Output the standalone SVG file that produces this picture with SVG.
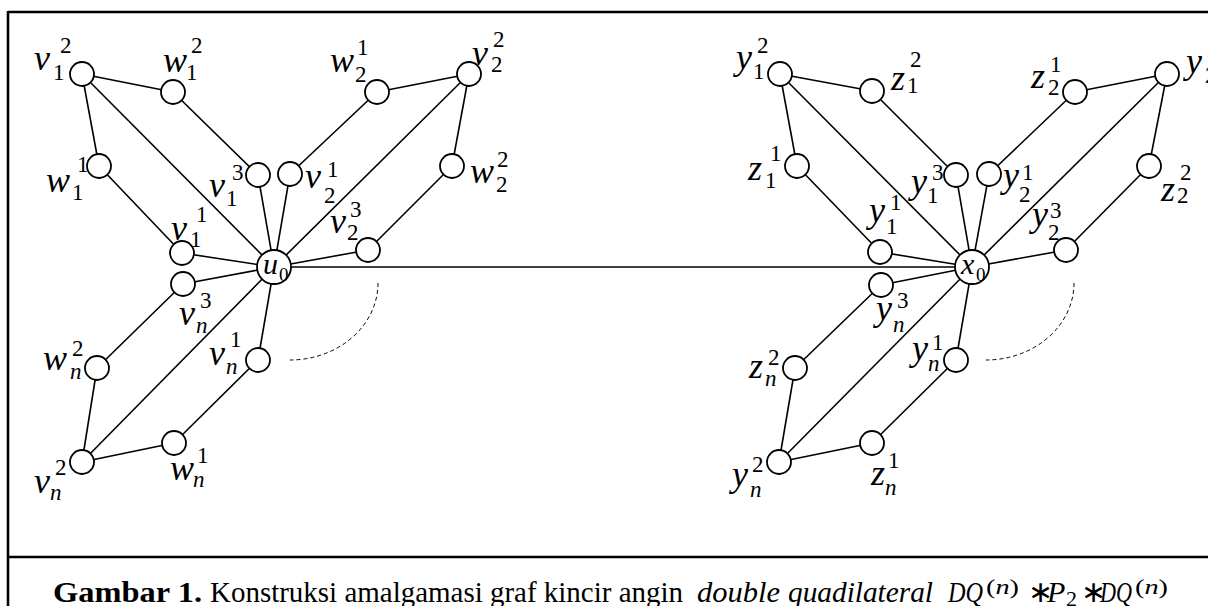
<svg xmlns="http://www.w3.org/2000/svg" width="1208" height="606" viewBox="0 0 1208 606">
  <style>
    .edge { stroke: #000; stroke-width: 1.6; fill: none; }
    .dash { stroke: #000; stroke-width: 1; fill: none; stroke-dasharray: 4 3; }
    .nd { fill: #fff; stroke: #000; stroke-width: 1.8; }
    .frame { stroke: #000; stroke-width: 2.6; fill: none; }
    text { font-family: "Liberation Serif", "Times New Roman", serif; fill: #000; }
    .m { font-size: 36px; font-style: italic; }
    .d { font-size: 23px; }
    .i { font-size: 23px; font-style: italic; }
    .c { font-size: 30px; font-style: italic; }
    .c0 { font-size: 19px; }
    .cap { font-size: 30px; }
    .capb { font-size: 30px; font-weight: bold; }
    .capi { font-size: 30px; font-style: italic; }
    .caps { font-size: 22px; }
  </style>

  <!-- frame -->
  <g id="frame">
    <line class="frame" x1="8" y1="12" x2="1208" y2="12"/>
    <line class="frame" x1="8" y1="11" x2="8" y2="606"/>
    <line class="frame" x1="8" y1="557" x2="1208" y2="557"/>
  </g>

  <!-- connectors -->
  <g id="edges">
    <!-- left windmill, blade 1 -->
    <line class="edge" x1="82" y1="74" x2="173" y2="92"/>
    <line class="edge" x1="82" y1="74" x2="99" y2="166"/>
    <line class="edge" x1="82" y1="74" x2="274" y2="267"/>
    <line class="edge" x1="173" y1="92" x2="258" y2="175"/>
    <line class="edge" x1="99" y1="166" x2="182" y2="253"/>
    <line class="edge" x1="258" y1="175" x2="274" y2="267"/>
    <line class="edge" x1="182" y1="253" x2="274" y2="267"/>
    <!-- left windmill, blade 2 -->
    <line class="edge" x1="469" y1="74" x2="377" y2="92"/>
    <line class="edge" x1="469" y1="74" x2="452" y2="166"/>
    <line class="edge" x1="469" y1="74" x2="274" y2="267"/>
    <line class="edge" x1="377" y1="92" x2="290" y2="174"/>
    <line class="edge" x1="452" y1="166" x2="368" y2="250"/>
    <line class="edge" x1="290" y1="174" x2="274" y2="267"/>
    <line class="edge" x1="368" y1="250" x2="274" y2="267"/>
    <!-- left windmill, blade n -->
    <line class="edge" x1="82" y1="462" x2="97" y2="368"/>
    <line class="edge" x1="82" y1="462" x2="174" y2="443"/>
    <line class="edge" x1="82" y1="462" x2="274" y2="267"/>
    <line class="edge" x1="97" y1="368" x2="183" y2="284"/>
    <line class="edge" x1="174" y1="443" x2="258" y2="360"/>
    <line class="edge" x1="183" y1="284" x2="274" y2="267"/>
    <line class="edge" x1="258" y1="360" x2="274" y2="267"/>
    <!-- path P2 joining the two centres -->
    <line class="edge" x1="274" y1="267" x2="972" y2="267"/>
    <!-- right windmill, blade 1 -->
    <line class="edge" x1="780" y1="74" x2="872" y2="91"/>
    <line class="edge" x1="780" y1="74" x2="797" y2="166"/>
    <line class="edge" x1="780" y1="74" x2="972" y2="267"/>
    <line class="edge" x1="872" y1="91" x2="956" y2="175"/>
    <line class="edge" x1="797" y1="166" x2="880" y2="252"/>
    <line class="edge" x1="956" y1="175" x2="972" y2="267"/>
    <line class="edge" x1="880" y1="252" x2="972" y2="267"/>
    <!-- right windmill, blade 2 -->
    <line class="edge" x1="1167" y1="74" x2="1075" y2="92"/>
    <line class="edge" x1="1167" y1="74" x2="1149" y2="166"/>
    <line class="edge" x1="1167" y1="74" x2="972" y2="267"/>
    <line class="edge" x1="1075" y1="92" x2="989" y2="174"/>
    <line class="edge" x1="1149" y1="166" x2="1066" y2="250"/>
    <line class="edge" x1="989" y1="174" x2="972" y2="267"/>
    <line class="edge" x1="1066" y1="250" x2="972" y2="267"/>
    <!-- right windmill, blade n -->
    <line class="edge" x1="779" y1="462" x2="795" y2="368"/>
    <line class="edge" x1="779" y1="462" x2="872" y2="443"/>
    <line class="edge" x1="779" y1="462" x2="972" y2="267"/>
    <line class="edge" x1="795" y1="368" x2="881" y2="285"/>
    <line class="edge" x1="872" y1="443" x2="956" y2="360"/>
    <line class="edge" x1="881" y1="285" x2="972" y2="267"/>
    <line class="edge" x1="956" y1="360" x2="972" y2="267"/>
    <!-- dashed arcs: the blades continue -->
    <path class="dash" d="M378,283 A88,77 0 0 1 290,360"/>
    <path class="dash" d="M1074,283 A88,77 0 0 1 986,360"/>
  </g>

  <!-- left windmill nodes -->
  <g id="u0"><circle class="nd" cx="274" cy="267" r="17"/><text class="c" x="263" y="274">u</text><text class="c0" x="279" y="281">0</text></g>
  <g id="v1_2"><circle class="nd" cx="82" cy="74" r="12"/><text class="m" x="34" y="70">v</text><text class="d" x="60" y="53">2</text><text class="d" x="53" y="80">1</text></g>
  <g id="w1_2"><circle class="nd" cx="173" cy="92" r="12"/><text class="m" x="163" y="72">w</text><text class="d" x="191" y="53">2</text><text class="d" x="186" y="80">1</text></g>
  <g id="w1_1"><circle class="nd" cx="99" cy="166" r="12"/><text class="m" x="46" y="192">w</text><text class="d" x="77" y="172">1</text><text class="d" x="72" y="200">1</text></g>
  <g id="v1_3"><circle class="nd" cx="258" cy="175" r="12"/><text class="m" x="209" y="197">v</text><text class="d" x="232" y="180">3</text><text class="d" x="226" y="206">1</text></g>
  <g id="v1_1"><circle class="nd" cx="182" cy="253" r="12"/><text class="m" x="171" y="240">v</text><text class="d" x="196" y="222">1</text><text class="d" x="190" y="247">1</text></g>
  <g id="v2_1"><circle class="nd" cx="290" cy="174" r="12"/><text class="m" x="305" y="188">v</text><text class="d" x="327" y="177">1</text><text class="d" x="324" y="203">2</text></g>
  <g id="w2_1"><circle class="nd" cx="377" cy="92" r="12"/><text class="m" x="330" y="72">w</text><text class="d" x="357" y="55">1</text><text class="d" x="355" y="82">2</text></g>
  <g id="v2_2"><circle class="nd" cx="469" cy="74" r="12"/><text class="m" x="472" y="65">v</text><text class="d" x="493" y="47">2</text><text class="d" x="491" y="72">2</text></g>
  <g id="w2_2"><circle class="nd" cx="452" cy="166" r="12"/><text class="m" x="470" y="183">w</text><text class="d" x="497" y="167">2</text><text class="d" x="496" y="192">2</text></g>
  <g id="v2_3"><circle class="nd" cx="368" cy="250" r="12"/><text class="m" x="330" y="233">v</text><text class="d" x="350" y="217">3</text><text class="d" x="347" y="240">2</text></g>
  <g id="vn_3"><circle class="nd" cx="183" cy="284" r="12"/><text class="m" x="179" y="325">v</text><text class="d" x="200" y="308">3</text><text class="i" x="196" y="333">n</text></g>
  <g id="wn_2"><circle class="nd" cx="97" cy="368" r="12"/><text class="m" x="43" y="370">w</text><text class="d" x="72" y="356">2</text><text class="i" x="70" y="379">n</text></g>
  <g id="vn_2"><circle class="nd" cx="82" cy="462" r="12"/><text class="m" x="34" y="493">v</text><text class="d" x="55" y="475">2</text><text class="i" x="50" y="500">n</text></g>
  <g id="wn_1"><circle class="nd" cx="174" cy="443" r="12"/><text class="m" x="170" y="480">w</text><text class="d" x="197" y="463">1</text><text class="i" x="193" y="487">n</text></g>
  <g id="vn_1"><circle class="nd" cx="258" cy="360" r="12"/><text class="m" x="209" y="365">v</text><text class="d" x="230" y="347">1</text><text class="i" x="226" y="374">n</text></g>

  <!-- right windmill nodes -->
  <g id="x0"><circle class="nd" cx="972" cy="267" r="17"/><text class="c" x="961" y="274">x</text><text class="c0" x="976" y="281">0</text></g>
  <g id="y1_2"><circle class="nd" cx="780" cy="74" r="12"/><text class="m" x="736" y="69">y</text><text class="d" x="757" y="53">2</text><text class="d" x="753" y="79">1</text></g>
  <g id="z1_2"><circle class="nd" cx="872" cy="91" r="12"/><text class="m" x="891" y="90">z</text><text class="d" x="910" y="67">2</text><text class="d" x="907" y="93">1</text></g>
  <g id="z1_1"><circle class="nd" cx="797" cy="166" r="12"/><text class="m" x="748" y="180">z</text><text class="d" x="770" y="161">1</text><text class="d" x="765" y="188">1</text></g>
  <g id="y1_3"><circle class="nd" cx="956" cy="175" r="12"/><text class="m" x="911" y="193">y</text><text class="d" x="932" y="180">3</text><text class="d" x="927" y="203">1</text></g>
  <g id="y1_1"><circle class="nd" cx="880" cy="252" r="12"/><text class="m" x="869" y="222">y</text><text class="d" x="890" y="210">1</text><text class="d" x="886" y="234">1</text></g>
  <g id="y2_1"><circle class="nd" cx="989" cy="174" r="12"/><text class="m" x="1003" y="187">y</text><text class="d" x="1022" y="180">1</text><text class="d" x="1019" y="202">2</text></g>
  <g id="z2_1"><circle class="nd" cx="1075" cy="92" r="12"/><text class="m" x="1031" y="88">z</text><text class="d" x="1050" y="72">1</text><text class="d" x="1048" y="95">2</text></g>
  <g id="y2_2"><circle class="nd" cx="1167" cy="74" r="12"/><text class="m" x="1186" y="73">y</text><text class="d" x="1207" y="57">2</text><text class="d" x="1205" y="83">2</text></g>
  <g id="z2_2"><circle class="nd" cx="1149" cy="166" r="12"/><text class="m" x="1161" y="201">z</text><text class="d" x="1180" y="180">2</text><text class="d" x="1177" y="203">2</text></g>
  <g id="y2_3"><circle class="nd" cx="1066" cy="250" r="12"/><text class="m" x="1032" y="226">y</text><text class="d" x="1050" y="218">3</text><text class="d" x="1048" y="240">2</text></g>
  <g id="yn_3"><circle class="nd" cx="881" cy="285" r="12"/><text class="m" x="876" y="320">y</text><text class="d" x="897" y="308">3</text><text class="i" x="893" y="332">n</text></g>
  <g id="zn_2"><circle class="nd" cx="795" cy="368" r="12"/><text class="m" x="749" y="378">z</text><text class="d" x="768" y="365">2</text><text class="i" x="765" y="386">n</text></g>
  <g id="yn_2"><circle class="nd" cx="779" cy="462" r="12"/><text class="m" x="732" y="486">y</text><text class="d" x="752" y="472">2</text><text class="i" x="750" y="497">n</text></g>
  <g id="zn_1"><circle class="nd" cx="872" cy="443" r="12"/><text class="m" x="871" y="485">z</text><text class="d" x="888" y="468">1</text><text class="i" x="885" y="495">n</text></g>
  <g id="yn_1"><circle class="nd" cx="956" cy="360" r="12"/><text class="m" x="912" y="360">y</text><text class="d" x="932" y="350">1</text><text class="i" x="928" y="371">n</text></g>

  <!-- caption -->
  <g id="caption">
    <text class="capb" x="53" y="602" textLength="149" lengthAdjust="spacingAndGlyphs">Gambar 1.</text>
    <text class="cap" x="210" y="602" textLength="473" lengthAdjust="spacingAndGlyphs">Konstruksi amalgamasi graf kincir angin</text>
    <text class="capi" x="697" y="602" textLength="83" lengthAdjust="spacingAndGlyphs">double</text>
    <text class="capi" x="788" y="602" textLength="145" lengthAdjust="spacingAndGlyphs">quadilateral</text>
    <text class="capi" x="948" y="602" textLength="35" lengthAdjust="spacingAndGlyphs">DQ</text>
    <text class="caps" x="986" y="594" textLength="33" lengthAdjust="spacingAndGlyphs">(<tspan font-style="italic">n</tspan>)</text>
    <text class="cap" x="1028" y="602">∗</text>
    <text class="capi" x="1047" y="602">P</text>
    <text class="caps" x="1066" y="606">2</text>
    <text class="cap" x="1081" y="602">∗</text>
    <text class="capi" x="1100" y="602" textLength="32" lengthAdjust="spacingAndGlyphs">DQ</text>
    <text class="caps" x="1135" y="594" textLength="33" lengthAdjust="spacingAndGlyphs">(<tspan font-style="italic">n</tspan>)</text>
  </g>
</svg>
